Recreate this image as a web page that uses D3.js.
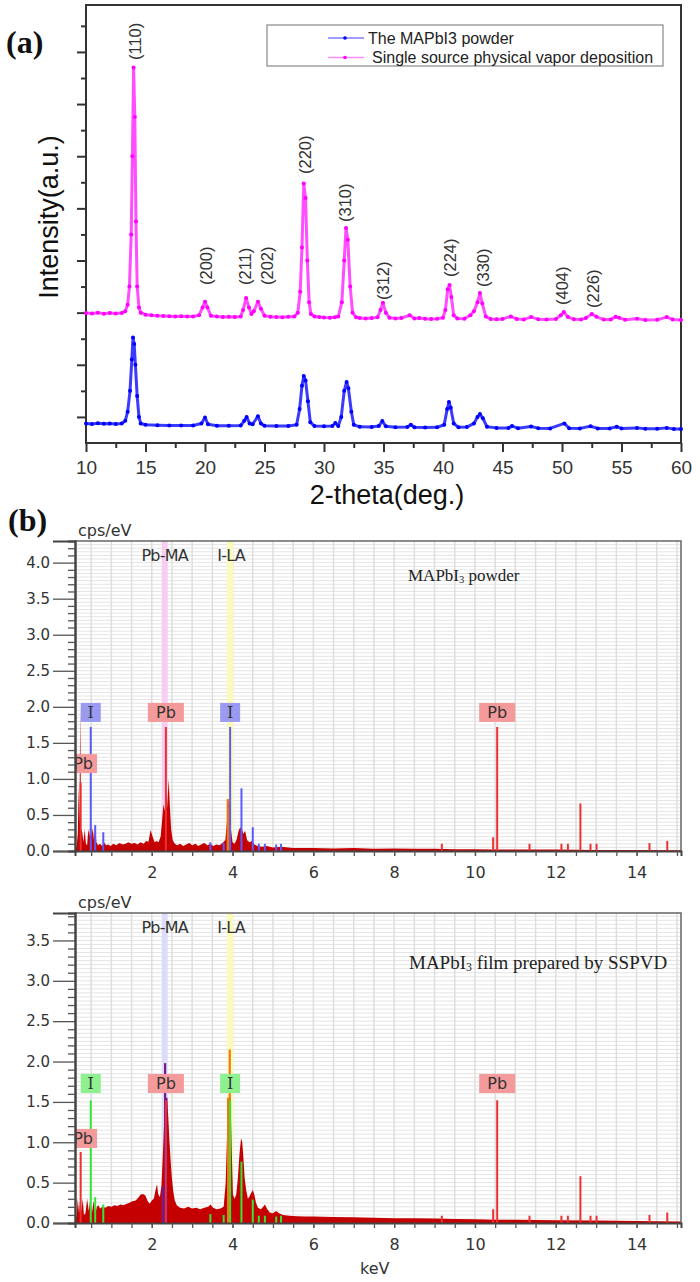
<!DOCTYPE html>
<html>
<head>
<meta charset="utf-8">
<script src="https://cdn.jsdelivr.net/npm/d3@7"></script>
<style>
  body { margin: 0; background: #fff; }
</style>
</head>
<body>
<div id="chart"></div>
<script>
// ---------- panel (a) data: XRD, [2theta, counts]
const xrdTicks = [10, 15, 20, 25, 30, 35, 40, 45, 50, 55, 60];

const powderXRD = [[10,-250],[10.5,-270],[11,-240],[11.5,-260],[12,-250],[12.5,-270],[13,-250],[13.3,-150],[13.5,200],[13.7,1000],[13.85,2200],[13.95,3050],[14.05,2800],[14.15,2000],[14.3,800],[14.45,0],[14.6,-250],[15,-300],[16,-320],[17,-330],[18,-330],[19,-330],[19.7,-250],[20.0,-20],[20.25,-280],[21,-340],[22,-340],[23,-330],[23.3,-150],[23.5,0],[23.75,-250],[24,-280],[24.45,30],[24.7,-250],[25,-340],[26,-350],[27,-350],[27.7,-300],[27.95,300],[28.15,1200],[28.3,1570],[28.45,1400],[28.65,600],[28.85,-200],[29.2,-350],[30,-360],[30.7,-350],[30.95,-230],[31.2,-350],[31.45,0],[31.7,1000],[31.9,1340],[32.05,1100],[32.3,200],[32.5,-300],[33,-380],[34,-390],[34.6,-350],[34.9,-160],[35.2,-360],[36,-400],[37,-390],[37.3,-300],[37.6,-400],[38.5,-410],[39.5,-400],[40.1,-300],[40.35,300],[40.5,570],[40.65,350],[40.9,-250],[41.3,-400],[42,-390],[42.6,-250],[42.9,0],[43.1,110],[43.35,-50],[43.7,-380],[44.5,-420],[45.5,-420],[45.8,-350],[46.3,-430],[47.4,-370],[48,-430],[49,-440],[50.2,-250],[50.6,-430],[51.5,-440],[52.4,-360],[53,-440],[54,-440],[54.6,-380],[55,-440],[56.3,-420],[57,-450],[58,-450],[58.8,-420],[59.4,-460],[60,-460]];

const vaporXRD = [[10,3990],[10.5,3970],[11,4000],[11.5,3960],[12,3990],[12.5,3970],[13,3990],[13.3,4050],[13.5,4300],[13.65,5000],[13.8,7000],[13.9,10000],[14.0,13400],[14.1,11500],[14.2,7500],[14.3,5000],[14.45,4200],[14.6,4000],[15,3920],[15.5,3900],[16,3880],[16.5,3870],[17,3860],[17.5,3850],[18,3860],[18.5,3850],[19,3850],[19.5,3900],[19.8,4200],[20.0,4420],[20.2,4200],[20.5,3880],[21,3850],[21.5,3830],[22,3840],[22.5,3830],[23,3850],[23.2,4100],[23.45,4560],[23.7,4200],[23.9,3950],[24.1,4050],[24.45,4420],[24.7,4150],[25,3880],[25.5,3840],[26,3830],[26.5,3820],[27,3840],[27.5,3850],[27.8,4000],[28.0,4800],[28.15,6500],[28.3,8950],[28.45,8400],[28.6,6000],[28.75,4400],[28.9,3950],[29.2,3850],[29.6,3830],[30,3810],[30.5,3800],[30.9,3820],[31.2,3850],[31.5,4400],[31.7,6000],[31.85,7250],[32.0,6800],[32.2,5000],[32.4,4000],[32.7,3820],[33,3790],[33.5,3780],[34,3790],[34.5,3820],[34.75,4100],[34.95,4380],[35.2,4000],[35.5,3800],[36,3780],[36.5,3790],[37.2,3900],[37.6,3780],[38,3790],[38.5,3770],[39,3760],[39.5,3770],[40,3800],[40.2,4100],[40.4,4900],[40.55,5060],[40.7,4600],[40.9,3900],[41.2,3780],[41.8,3770],[42.3,3900],[42.6,4050],[42.9,4400],[43.1,4750],[43.3,4350],[43.6,3850],[44,3760],[44.5,3750],[45,3760],[45.7,3850],[46.2,3760],[46.8,3740],[47.4,3830],[48,3750],[48.7,3740],[49.5,3760],[49.9,3900],[50.15,4020],[50.5,3830],[51,3750],[51.6,3740],[52,3790],[52.5,3950],[52.9,3840],[53.5,3740],[54.1,3740],[54.5,3840],[54.8,3800],[55.3,3730],[56.3,3770],[57,3720],[58,3730],[58.8,3830],[59.3,3740],[60,3720]];

const peakNames = ["(110)","(200)","(211)","(202)","(220)","(310)","(312)","(224)","(330)","(404)","(226)"];
const peakTheta = [14.12, 20.08, 23.36, 25.21, 28.4, 31.76, 34.96, 40.59, 43.36, 50.0, 52.6];
const peakLabelAt = [13690, 5060, 5060, 5060, 9318, 7477, 4485, 5367, 4983, 4293, 4178];

const legendNames = ["The MAPbI3 powder", "Single source physical vapor deposition"];

// ---------- panel (b) data: EDS, [keV, cps/eV]
const kevTicks = [2, 4, 6, 8, 10, 12, 14];

const powderEDS = [[0.1,0.03],[0.14,0.06],[0.17,0.25],[0.19,0.9],[0.21,0.35],[0.23,2.0],[0.25,0.3],[0.28,0.26],[0.31,0.12],[0.34,0.3],[0.37,0.1],[0.4,0.08],[0.43,0.3],[0.46,0.2],[0.49,0.56],[0.51,0.2],[0.54,0.32],[0.57,0.15],[0.6,0.35],[0.63,0.12],[0.67,0.08],[0.72,0.1],[0.77,0.07],[0.82,0.12],[0.87,0.08],[0.92,0.09],[0.98,0.07],[1.05,0.1],[1.12,0.08],[1.2,0.11],[1.28,0.09],[1.35,0.1],[1.42,0.12],[1.5,0.1],[1.58,0.11],[1.65,0.09],[1.72,0.12],[1.8,0.1],[1.86,0.14],[1.92,0.13],[1.97,0.29],[2.02,0.2],[2.07,0.12],[2.12,0.14],[2.17,0.12],[2.22,0.2],[2.26,0.45],[2.29,0.65],[2.32,0.55],[2.35,0.85],[2.38,0.6],[2.42,1.0],[2.45,0.6],[2.48,0.3],[2.52,0.15],[2.57,0.1],[2.63,0.08],[2.7,0.1],[2.78,0.07],[2.85,0.09],[2.93,0.11],[3.0,0.08],[3.08,0.1],[3.15,0.07],[3.22,0.09],[3.3,0.11],[3.38,0.08],[3.45,0.1],[3.52,0.07],[3.6,0.09],[3.68,0.08],[3.75,0.11],[3.82,0.15],[3.86,0.4],[3.9,0.73],[3.93,0.6],[3.96,0.3],[4.0,0.12],[4.05,0.1],[4.1,0.16],[4.15,0.28],[4.19,0.33],[4.23,0.3],[4.27,0.24],[4.31,0.28],[4.36,0.15],[4.42,0.12],[4.48,0.14],[4.54,0.09],[4.62,0.07],[4.72,0.06],[4.85,0.07],[5.0,0.05],[5.2,0.06],[5.5,0.04],[6.0,0.04],[6.5,0.035],[7.0,0.04],[7.5,0.03],[8.0,0.035],[8.5,0.03],[9.0,0.03],[9.5,0.025],[10.0,0.025],[10.5,0.02],[11.0,0.02],[12.0,0.02],[13.0,0.015],[14.0,0.015],[15.1,0.01]];

const filmEDS = [[0.1,0.03],[0.14,0.1],[0.17,0.3],[0.2,0.12],[0.23,0.32],[0.26,0.15],[0.29,0.3],[0.32,0.1],[0.36,0.12],[0.4,0.3],[0.44,0.15],[0.48,0.3],[0.52,0.12],[0.56,0.28],[0.6,0.1],[0.64,0.2],[0.68,0.22],[0.72,0.18],[0.78,0.2],[0.85,0.19],[0.92,0.21],[1.0,0.2],[1.08,0.22],[1.15,0.21],[1.22,0.23],[1.3,0.22],[1.38,0.24],[1.45,0.25],[1.52,0.27],[1.6,0.28],[1.66,0.31],[1.72,0.35],[1.78,0.36],[1.84,0.34],[1.9,0.27],[1.95,0.24],[2.0,0.28],[2.05,0.3],[2.1,0.42],[2.13,0.48],[2.16,0.36],[2.2,0.32],[2.24,0.46],[2.28,0.9],[2.31,1.3],[2.34,1.55],[2.38,1.55],[2.41,1.3],[2.44,1.0],[2.47,0.75],[2.5,0.55],[2.53,0.4],[2.57,0.28],[2.62,0.22],[2.7,0.19],[2.8,0.18],[2.9,0.2],[3.0,0.18],[3.1,0.19],[3.2,0.17],[3.3,0.19],[3.4,0.2],[3.45,0.23],[3.52,0.19],[3.6,0.17],[3.7,0.18],[3.78,0.2],[3.83,0.5],[3.87,1.2],[3.9,1.55],[3.95,1.55],[3.98,0.9],[4.01,0.35],[4.05,0.3],[4.09,0.35],[4.13,0.55],[4.17,0.85],[4.21,1.05],[4.24,1.0],[4.27,0.8],[4.3,0.55],[4.34,0.4],[4.38,0.3],[4.42,0.33],[4.47,0.38],[4.5,0.41],[4.54,0.35],[4.58,0.25],[4.63,0.19],[4.7,0.17],[4.76,0.2],[4.8,0.23],[4.86,0.17],[4.92,0.13],[5.0,0.12],[5.08,0.15],[5.15,0.12],[5.25,0.1],[5.4,0.09],[5.6,0.085],[5.8,0.08],[6.0,0.08],[6.5,0.075],[7.0,0.07],[7.5,0.065],[8.0,0.06],[8.5,0.06],[9.0,0.055],[9.5,0.05],[10.0,0.045],[10.5,0.04],[11.0,0.04],[12.0,0.035],[13.0,0.03],[14.0,0.025],[15.1,0.02]];

// element marker lines
const iLinesKeV  = [0.49, 0.6, 0.8, 3.45, 3.78, 3.94, 4.22, 4.5, 4.65, 4.8, 5.08, 5.2];
const iPowderH   = [1.72, 0.36, 0.26, 0.12, 0.11, 1.72, 0.87, 0.33, 0.1, 0.1, 0.09, 0.1];
const iFilmH     = [1.52, 0.32, 0.23, 0.11, 0.1, 1.52, 0.76, 0.29, 0.09, 0.09, 0.08, 0.09];
const pbLinesKeV = [0.24, 2.35, 9.18, 10.45, 10.55, 11.35, 12.14, 12.3, 12.61, 12.86, 13.01, 14.32, 14.76];
const pbPowderH  = [0.95, 1.72, 0.1, 0.19, 1.72, 0.1, 0.1, 0.1, 0.66, 0.1, 0.1, 0.11, 0.14];
const pbFilmH    = [0.88, 1.52, 0.09, 0.17, 1.52, 0.09, 0.09, 0.09, 0.58, 0.09, 0.09, 0.1, 0.13];

// fitted peak lines
const iFitPowder  = [[3.88, 0.72], [3.92, 0.6]];
const iFitFilm    = [[3.89, 1.55], [3.93, 2.15]];
const pbFitPowder = [];
const pbFitFilm   = [[2.27, 0.45], [2.33, 1.98], [2.36, 1.55]];

// element label boxes
const labelNames  = ["Pb", "I", "Pb", "I", "Pb"];
const labelKeV    = [0.3, 0.49, 2.35, 3.94, 10.55];
const powderLabelAt = [1.08, 1.79, 1.79, 1.79, 1.79];
const filmLabelAt   = [0.93, 1.61, 1.61, 1.61, 1.61];

const bandNames = ["Pb-MA", "I-LA"];
const bandKeV   = [2.32, 3.94];

// ======================================================
const svg = d3.select("#chart").append("svg")
  .attr("width", 700).attr("height", 1282)
  .style("background", "#fff");

const sans = "'Liberation Sans', Arial, sans-serif";
const serif = "'Liberation Serif', 'Times New Roman', serif";
const verd = "'DejaVu Sans', Verdana, sans-serif";

// ---------------- panel (a)
const xA = d3.scaleLinear().domain([10, 60]).range([86, 681]);
const yA = d3.scaleLinear().domain([-1000, 15800]).range([443, 5]);
const gA = svg.append("g");

const styleAxis = (g, w) => {
  g.select(".domain").remove();
  g.selectAll("line").attr("stroke", "#333").attr("stroke-width", w);
  g.attr("font-family", sans).attr("color", "#333");
};

gA.append("g").attr("transform", `translate(0,${yA.range()[0]})`)
  .call(d3.axisBottom(xA).tickValues(xrdTicks).tickSize(9).tickPadding(9))
  .call(g => { styleAxis(g, 2); g.selectAll("text").attr("font-size", 19); });
gA.append("g").attr("transform", `translate(0,${yA.range()[0]})`)
  .call(d3.axisBottom(xA).tickValues(d3.range(12.5, 60, 5)).tickSize(5).tickFormat(""))
  .call(g => styleAxis(g, 2));
gA.append("g").attr("transform", `translate(${xA.range()[0]},0)`)
  .call(d3.axisLeft(yA).tickValues(d3.range(0, 15000, 2000)).tickSize(9).tickFormat(""))
  .call(g => styleAxis(g, 2));
gA.append("g").attr("transform", `translate(${xA.range()[0]},0)`)
  .call(d3.axisLeft(yA).tickValues(d3.range(1000, 15500, 2000)).tickSize(5).tickFormat(""))
  .call(g => styleAxis(g, 2));

gA.append("rect")
  .attr("x", xA.range()[0]).attr("y", yA.range()[1])
  .attr("width", xA.range()[1] - xA.range()[0])
  .attr("height", yA.range()[0] - yA.range()[1])
  .attr("fill", "none").attr("stroke", "#333").attr("stroke-width", 2);

const lineA = d3.line().x(d => xA(d[0])).y(d => yA(d[1]));
[[powderXRD, "#0000ff", "#3b3bff"], [vaporXRD, "#ff00ff", "#ff4dff"]].forEach(([data, dot, ln]) => {
  gA.append("path").datum(data)
    .attr("d", lineA).attr("fill", "none")
    .attr("stroke", ln).attr("stroke-width", 3).attr("stroke-linejoin", "round");
  gA.append("g").selectAll("circle").data(data).join("circle")
    .attr("cx", d => xA(d[0])).attr("cy", d => yA(d[1]))
    .attr("r", 2).attr("fill", dot);
});

// peak labels
peakNames.forEach((n, i) => {
  gA.append("text")
    .attr("transform", `translate(${xA(peakTheta[i])},${yA(peakLabelAt[i])}) rotate(-90)`)
    .attr("dy", "0.36em")
    .attr("font-family", sans).attr("font-size", 16.5).attr("fill", "#333")
    .text(n);
});

// legend
const lg = gA.append("g");
lg.append("rect").attr("x", 267).attr("y", 25).attr("width", 396).attr("height", 41)
  .attr("fill", "#fff").attr("stroke", "#888").attr("stroke-width", 1.2);
[["#0000ff", "#7d7dff"], ["#ff00ff", "#ff8cff"]].forEach(([dot, ln], i) => {
  const y = 38 + i * 19.5;
  lg.append("line").attr("x1", 328).attr("x2", 364).attr("y1", y).attr("y2", y)
    .attr("stroke", ln).attr("stroke-width", 1.5);
  lg.append("circle").attr("cx", 345).attr("cy", y).attr("r", 1.8).attr("fill", dot);
  lg.append("text").attr("x", i === 0 ? 368 : 372).attr("y", y).attr("dy", "0.36em")
    .attr("font-family", sans).attr("font-size", 16).attr("fill", "#222")
    .text(legendNames[i]);
});

// axis titles and panel letters
gA.append("text").attr("x", 387).attr("y", 504).attr("text-anchor", "middle")
  .attr("font-family", sans).attr("font-size", 27).attr("fill", "#111").text("2-theta(deg.)");
gA.append("text").attr("transform", "translate(58,217) rotate(-90)").attr("text-anchor", "middle")
  .attr("font-family", sans).attr("font-size", 27).attr("fill", "#111").text("Intensity(a.u.)");
gA.append("text").attr("x", 6).attr("y", 53)
  .attr("font-family", serif).attr("font-weight", "bold").attr("font-size", 32).attr("fill", "#111").text("(a)");
svg.append("text").attr("x", 8).attr("y", 531)
  .attr("font-family", serif).attr("font-weight", "bold").attr("font-size", 32).attr("fill", "#111").text("(b)");

// ---------------- panel (b)
const xB = d3.scaleLinear().domain([0.1, 15.1]).range([75, 681]);

function edsPanel(cfg) {
  const y = d3.scaleLinear().domain([0, cfg.ymax]).range([cfg.bottom, cfg.top]);
  const [x0, x1] = xB.range();
  const g = svg.append("g");
  const clipId = "clip" + cfg.top;
  svg.append("clipPath").attr("id", clipId).append("rect")
    .attr("x", x0).attr("y", cfg.top).attr("width", x1 - x0).attr("height", cfg.bottom - cfg.top);
  const p = g.append("g").attr("clip-path", `url(#${clipId})`);

  // grid
  p.append("g").selectAll("line").data(d3.range(0.05, cfg.ymax, 0.05)).join("line")
    .attr("x1", x0).attr("x2", x1).attr("y1", d => y(d)).attr("y2", d => y(d))
    .attr("stroke", "#e4e4e4").attr("stroke-width", 1);
  p.append("g").selectAll("line").data(d3.range(0.5, 15.01, 0.5)).join("line")
    .attr("x1", d => xB(d)).attr("x2", d => xB(d)).attr("y1", cfg.top).attr("y2", cfg.bottom)
    .attr("stroke", "#dedede").attr("stroke-width", 1.5);

  // element line bands
  bandKeV.forEach((k, i) => {
    p.append("rect").attr("x", xB(k) - 3).attr("y", cfg.top).attr("width", 6)
      .attr("height", cfg.bottom - cfg.top)
      .attr("fill", i === 0 ? cfg.pbBand : "#fbfbb8");
  });

  // spectrum
  p.append("path").datum(cfg.spec)
    .attr("d", d3.area().x(d => xB(d[0])).y0(y(0)).y1(d => y(d[1])))
    .attr("fill", "#c40000");

  // fitted lines
  cfg.fitPb.forEach(d => p.append("line").attr("x1", xB(d[0])).attr("x2", xB(d[0]))
    .attr("y1", y(0)).attr("y2", y(d[1])).attr("stroke", "#7a1a8a").attr("stroke-width", 2.2));
  cfg.fitI.forEach(d => p.append("line").attr("x1", xB(d[0])).attr("x2", xB(d[0]))
    .attr("y1", y(0)).attr("y2", y(d[1])).attr("stroke", "#f07a10").attr("stroke-width", 2.2));

  // marker lines
  pbLinesKeV.forEach((k, i) => p.append("line").attr("x1", xB(k)).attr("x2", xB(k))
    .attr("y1", y(0)).attr("y2", y(cfg.pbH[i])).attr("stroke", "#ee3030").attr("stroke-width", 2));
  iLinesKeV.forEach((k, i) => p.append("line").attr("x1", xB(k)).attr("x2", xB(k))
    .attr("y1", y(0)).attr("y2", y(cfg.iH[i])).attr("stroke", cfg.iColor).attr("stroke-width", 2));

  // label boxes
  labelNames.forEach((n, i) => {
    const w = n === "I" ? 20 : (i === 0 ? 28 : 36);
    const cx = xB(labelKeV[i]);
    const yb = y(cfg.labelAt[i]);
    p.append("rect").attr("x", cx - w / 2).attr("y", yb - 19).attr("width", w).attr("height", 19)
      .attr("fill", n === "I" ? cfg.iBox : "#f59a9a");
    p.append("text").attr("x", cx).attr("y", yb - 9.5).attr("dy", "0.36em")
      .attr("text-anchor", "middle").attr("font-family", n === "I" ? "'DejaVu Serif', serif" : verd)
      .attr("font-size", 16).attr("fill", "#333").text(n);
  });

  // band names
  bandNames.forEach((n, i) => {
    g.append("text").attr("x", xB(bandKeV[i]) + (i === 0 ? 0 : 1)).attr("y", cfg.top + 14)
      .attr("dy", "0.36em").attr("text-anchor", "middle")
      .attr("font-family", verd).attr("font-size", 16).attr("letter-spacing", -0.8)
      .attr("fill", "#333").text(n);
  });

  // title text
  const t = g.append("text").attr("x", cfg.titleX).attr("y", cfg.titleY)
    .attr("font-family", serif).attr("font-size", cfg.titleSize).attr("fill", "#222");
  t.append("tspan").text("MAPbI");
  t.append("tspan").attr("font-size", cfg.titleSize * 0.62).attr("dy", 2).text("3");
  t.append("tspan").attr("dy", -2).text(cfg.titleRest);

  // frame
  g.append("path")
    .attr("d", `M${x0},${cfg.top}H${x1}V${cfg.bottom}`)
    .attr("fill", "none").attr("stroke", "#666").attr("stroke-width", 1.5);

  // axes
  const ax = (gg) => {
    gg.select(".domain").attr("stroke", "#444").attr("stroke-width", 2);
    gg.selectAll("line").attr("stroke", "#555").attr("stroke-width", 1.3);
    gg.attr("font-family", verd).attr("color", "#333");
  };
  g.append("g").attr("transform", `translate(${x0},0)`)
    .call(d3.axisLeft(y).tickValues(d3.range(0, cfg.ymax + 0.001, 0.5))
      .tickSize(22).tickPadding(3).tickFormat(d3.format(".1f")))
    .call(gg => { ax(gg); gg.selectAll("text").attr("font-size", 15); });
  g.append("g").attr("transform", `translate(${x0},0)`)
    .call(d3.axisLeft(y).tickValues(d3.range(0.1, cfg.ymax, 0.1).filter(v => Math.abs(v * 2 - Math.round(v * 2)) > 0.01))
      .tickSize(7).tickFormat(""))
    .call(ax);
  g.append("g").attr("transform", `translate(0,${cfg.bottom})`)
    .call(d3.axisBottom(xB).tickValues(d3.range(0.5, 15.01, 0.5)).tickSize(5).tickFormat(""))
    .call(ax);
  g.append("g").attr("transform", `translate(0,${cfg.bottom})`)
    .call(d3.axisBottom(xB).tickValues(kevTicks).tickSize(5).tickPadding(11))
    .call(gg => { ax(gg); gg.select(".domain").remove(); gg.selectAll("text").attr("font-size", 16); });

  g.append("text").attr("x", 78).attr("y", cfg.top - 5)
    .attr("font-family", verd).attr("font-size", 16).attr("fill", "#333").text("cps/eV");
}

edsPanel({
  top: 541, bottom: 851, ymax: 4.3, spec: powderEDS,
  iH: iPowderH, pbH: pbPowderH, fitI: iFitPowder, fitPb: pbFitPowder,
  labelAt: powderLabelAt, iColor: "#5a5aff", iBox: "#9a9af2", pbBand: "#f8cdf2",
  titleX: 408, titleY: 581, titleSize: 17, titleRest: " powder"
});
edsPanel({
  top: 913, bottom: 1223, ymax: 3.84, spec: filmEDS,
  iH: iFilmH, pbH: pbFilmH, fitI: iFitFilm, fitPb: pbFitFilm,
  labelAt: filmLabelAt, iColor: "#33e633", iBox: "#8ff08f", pbBand: "#dcdcfa",
  titleX: 409, titleY: 969, titleSize: 19, titleRest: " film prepared by SSPVD"
});

svg.append("text").attr("x", 360).attr("y", 1274)
  .attr("font-family", verd).attr("font-size", 16).attr("fill", "#333").text("keV");
</script>
</body>
</html>
